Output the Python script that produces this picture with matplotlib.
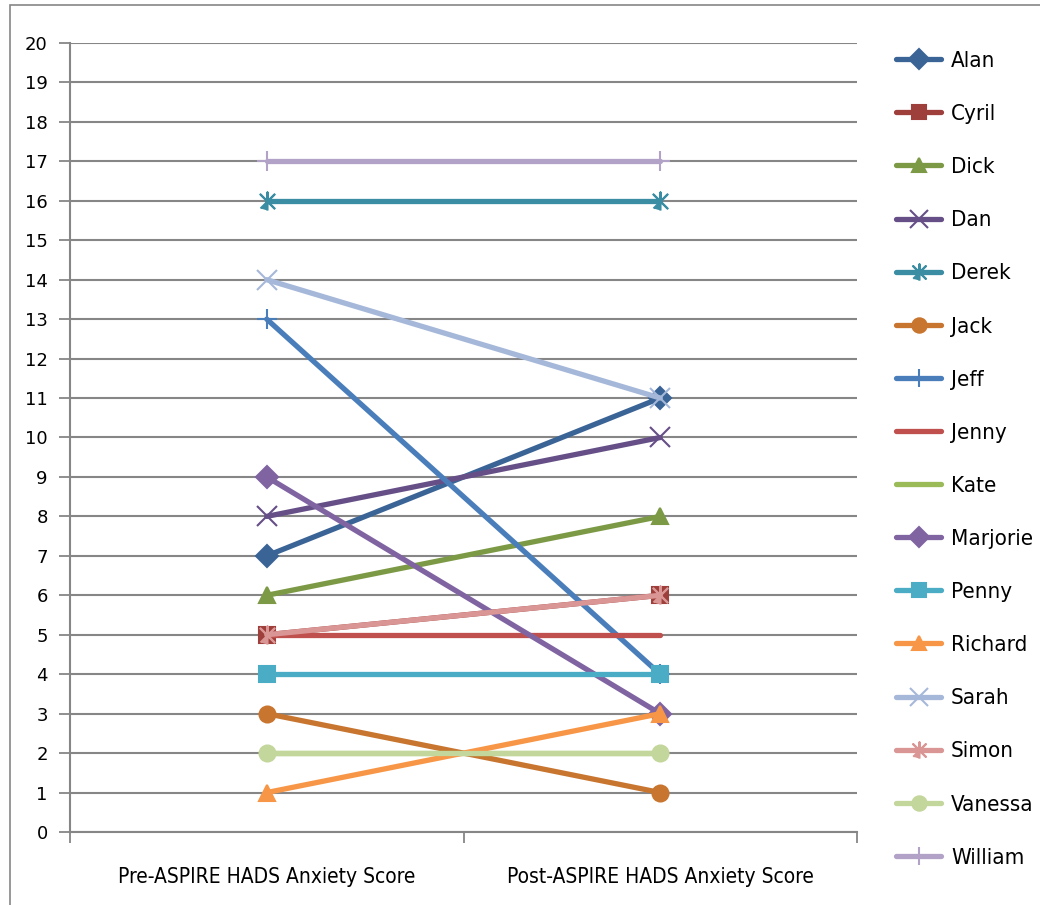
import matplotlib
matplotlib.use("Agg")
import matplotlib.pyplot as plt
import numpy as np

# Datos
categorias = ["Pre-ASPIRE HADS Anxiety Score", "Post-ASPIRE HADS Anxiety Score"]
nombres = ["Alan", "Cyril", "Dick", "Dan", "Derek", "Jack", "Jeff", "Jenny",
           "Kate", "Marjorie", "Penny", "Richard", "Sarah", "Simon", "Vanessa", "William"]
pre = [7, 5, 6, 8, 16, 3, 13, 5, 2, 9, 4, 1, 14, 5, 2, 17]
post = [11, 6, 8, 10, 16, 1, 4, 5, 2, 3, 4, 3, 11, 6, 2, 17]

colores = ["#3B6496", "#9E3F3C", "#7C9A45", "#654F86", "#3A8DA3", "#C8752F",
           "#4A7EBB", "#C0504D", "#9BBB59", "#8064A2", "#4BACC6", "#F79646",
           "#A5B8D9", "#D99694", "#C3D69B", "#B3A2C7"]
asterisco = [(-1, -1), (1, 1), (0, 0), (-1, 1), (1, -1), (0, 0), (0, 1.3), (0, -1.3)]
marcadores = ["D", "s", "^", "x", asterisco, "o", "+", None,
              None, "D", "s", "^", "x", asterisco, "o", "+"]

fig = plt.figure(figsize=(10.4, 9.05), dpi=100)
ax = fig.add_axes([70 / 1040, 1 - 832 / 905, (857 - 70) / 1040, (832 - 43) / 905])

x = np.arange(len(categorias))
for i, nombre in enumerate(nombres):
    m = marcadores[i]
    ms = 11.5
    if m in ("x", "+"):
        ms = 14
    elif isinstance(m, list):
        ms = 13
    ax.plot(x, [pre[i], post[i]], color=colores[i], lw=3.8, marker=m, ms=ms,
            mec=colores[i], mfc=colores[i], mew=1.5, solid_capstyle="round",
            label=nombre, zorder=3 + i * 0.01)

ax.set_xlim(-0.5, 1.5)
ax.set_ylim(0, 20)
ax.set_yticks(range(0, 21))
ax.yaxis.grid(True, color="#868686", lw=1.5)
ax.set_axisbelow(True)
ax.set_xticks([-0.5, 0.5, 1.5])
ax.set_xticklabels([])
ax.set_xticks(x, minor=True)
ax.set_xticklabels(categorias, minor=True, fontsize=15, family="DejaVu Sans",
                   stretch="condensed")
ax.tick_params(axis="x", which="minor", length=0, pad=25)
ax.tick_params(axis="x", which="major", length=8, color="#868686", width=1.3, direction="out")
ax.tick_params(axis="y", length=8, color="#868686", width=1.3, labelsize=13, pad=8)

for lado in ["top", "right"]:
    ax.spines[lado].set_visible(False)
for lado in ["left", "bottom"]:
    ax.spines[lado].set_color("#868686")
    ax.spines[lado].set_linewidth(1.5)

ax.legend(loc="upper left", bbox_to_anchor=(876 / 1040, 1 - 31 / 905),
          bbox_transform=fig.transFigure, frameon=False, handlelength=2.03,
          handletextpad=0.45, labelspacing=1.49, borderpad=0.4,
          prop={"family": "DejaVu Sans", "stretch": "condensed", "size": 16},
          numpoints=1, markerscale=0.9)

# borde exterior del grafico
fig.patches.append(plt.Rectangle((10 / 1040, -0.01), 1.1, 1 - 5 / 905 + 0.01,
                                 transform=fig.transFigure, fill=False,
                                 edgecolor="#868686", lw=1.2))

fig.savefig("out.png", dpi=100)
